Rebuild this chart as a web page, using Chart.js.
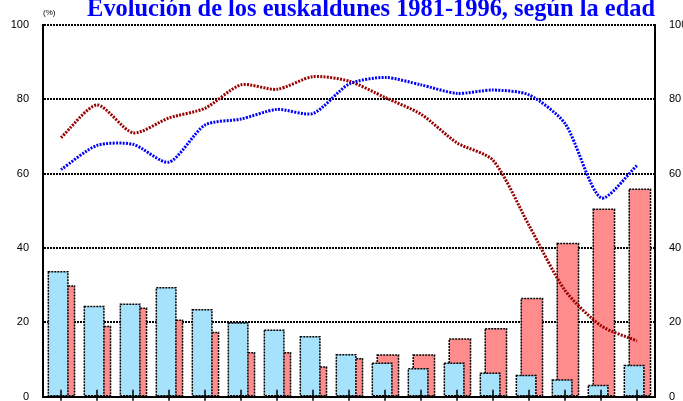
<!DOCTYPE html>
<html>
<head>
<meta charset="utf-8">
<script src="https://cdn.jsdelivr.net/npm/chart.js@4.4.1/dist/chart.umd.min.js"></script>
<style>
    html, body { margin: 0; padding: 0; background: #fff; overflow: hidden; }
    #wrap { width: 683px; height: 401px; }
</style>
</head>
<body>
<div id="wrap"><canvas id="chart"></canvas></div>
<script>
const AGE_GROUPS = ['5-9', '10-14', '15-19', '20-24', '25-29', '30-34', '35-39', '40-44', '45-49',
    '50-54', '55-59', '60-64', '65-69', '70-74', '75-79', '80-84', '85+'];

const BLUE_BARS = [33.6, 24.3, 24.9, 29.3, 23.4, 19.8, 17.9, 16.1, 11.3, 9.0, 7.5, 9.0, 6.3, 5.7, 4.5, 3.0, 8.4];
const RED_BARS = [29.8, 18.9, 23.8, 20.6, 17.3, 11.8, 11.8, 8.0, 10.2, 11.2, 11.2, 15.5, 18.3, 26.4, 41.2, 50.4, 55.8];

const BLUE_LINE = [61.1, 67.6, 67.9, 63.1, 73.1, 74.7, 77.3, 76.2, 84.1, 85.9, 83.9, 81.6, 82.5, 81.2, 73.5, 53.5, 62.2];
const RED_LINE = [69.7, 78.5, 71.0, 75.0, 77.6, 83.9, 82.7, 86.1, 84.9, 80.5, 76.0, 68.3, 63.6, 46.1, 28.6, 19.1, 15.0];

const Y_MIN = 0;
const Y_MAX = 100;
const Y_STEP = 20;

const TITLE = 'Evolución de los euskaldunes 1981-1996, según la edad';
const UNIT_LABEL = '(%)';

// dashed outline round each bar, drawn right after its own dataset so overlaps stay right
const barOutline = {
    id: 'barOutline',
    afterDatasetDraw(chart, args) {
        if (args.meta.type !== 'bar') {
            return;
        }
        const ctx = chart.ctx;
        ctx.save();
        ctx.strokeStyle = '#000';
        ctx.lineWidth = 1.5;
        ctx.setLineDash([2, 1]);
        args.meta.data.forEach((bar) => {
            const p = bar.getProps(['x', 'y', 'base', 'width'], true);
            ctx.strokeRect(p.x - p.width / 2, p.y, p.width, p.base - p.y);
        });
        ctx.restore();
    }
};

// cross tick marks on the category axis + the small unit label
const axisExtras = {
    id: 'axisExtras',
    afterDatasetsDraw(chart) {
        const ctx = chart.ctx;
        const xScale = chart.scales.x;
        const area = chart.chartArea;
        ctx.save();
        ctx.strokeStyle = '#000';
        ctx.lineWidth = 1.5;
        xScale.ticks.forEach((t, i) => {
            const x = xScale.getPixelForTick(i);
            ctx.beginPath();
            ctx.moveTo(x, area.bottom - 7);
            ctx.lineTo(x, area.bottom + 4);
            ctx.stroke();
        });
        ctx.fillStyle = '#000';
        ctx.font = '8px "Liberation Sans", Arial, sans-serif';
        ctx.textBaseline = 'middle';
        ctx.textAlign = 'left';
        ctx.fillText(UNIT_LABEL, area.left, 13);
        ctx.restore();
    }
};

const tickFont = { family: '"Liberation Sans", Arial, sans-serif', size: 11 };

// fixed axis width; drop the extra vertical padding the tick padding would add
function fitAxis(width) {
    return (scale) => {
        scale.width = width;
        scale.paddingTop = 0;
        scale.paddingBottom = 0;
    };
}

new Chart(document.getElementById('chart'), {
    data: {
        labels: AGE_GROUPS,
        datasets: [
            {
                type: 'line',
                label: 'Línea azul',
                data: BLUE_LINE,
                borderColor: '#0000ff',
                borderWidth: 3,
                borderDash: [2, 1.3],
                pointRadius: 0,
                tension: 0.25,
                fill: false,
                order: 0
            },
            {
                type: 'line',
                label: 'Línea roja',
                data: RED_LINE,
                borderColor: '#990000',
                borderWidth: 3,
                borderDash: [2, 1.3],
                pointRadius: 0,
                tension: 0.25,
                fill: false,
                order: 0
            },
            {
                type: 'bar',
                label: 'Barras azules',
                data: BLUE_BARS,
                backgroundColor: '#a6e2fb',
                borderWidth: 0,
                categoryPercentage: 0.32,
                barPercentage: 3.4,
                order: 1
            },
            {
                type: 'bar',
                label: 'Barras rojas',
                data: RED_BARS,
                backgroundColor: '#ff8c8c',
                borderWidth: 0,
                categoryPercentage: 0.32,
                barPercentage: 3.7,
                order: 2
            }
        ]
    },
    options: {
        responsive: true,
        maintainAspectRatio: false,
        animation: false,
        devicePixelRatio: 1,
        layout: { padding: { top: 0, left: 0, right: 0, bottom: 4.3 } },
        plugins: {
            legend: { display: false },
            tooltip: { enabled: false },
            title: {
                display: true,
                text: TITLE,
                color: '#0000ff',
                align: 'end',
                fullSize: false,
                font: { family: '"Liberation Serif", "Times New Roman", serif', size: 24.4, weight: 'bold', lineHeight: 1 },
                padding: { top: -2, bottom: 2.6 }
            }
        },
        scales: {
            x: {
                type: 'category',
                offset: true,
                ticks: { display: false },
                grid: { display: false, drawTicks: false },
                border: { display: true, color: '#000', width: 2 }
            },
            y: {
                position: 'left',
                min: Y_MIN,
                max: Y_MAX,
                ticks: { stepSize: Y_STEP, color: '#000', font: tickFont, padding: 14 },
                grid: { color: '#000', lineWidth: 2, drawTicks: false },
                border: { display: true, color: '#000', width: 2, dash: [2, 1] },
                afterFit: fitAxis(43)
            },
            y2: {
                position: 'right',
                min: Y_MIN,
                max: Y_MAX,
                ticks: { stepSize: Y_STEP, color: '#000', font: tickFont, padding: 14 },
                grid: { drawOnChartArea: false, drawTicks: false },
                border: { display: true, color: '#000', width: 2 },
                afterFit: fitAxis(28)
            }
        }
    },
    plugins: [barOutline, axisExtras]
});
</script>
</body>
</html>
